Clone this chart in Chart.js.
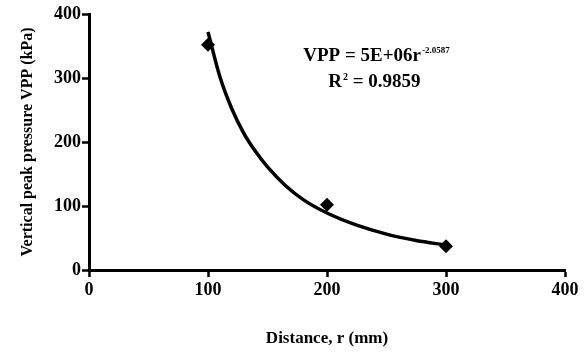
<!DOCTYPE html>
<html>
<head>
<meta charset="utf-8">
<script src="https://cdn.jsdelivr.net/npm/chart.js@4/dist/chart.umd.min.js"></script>
<style>
    html, body { margin: 0; padding: 0; background: #fff; }
    #wrap { width: 588px; height: 362px; }
</style>
</head>
<body>
<div id="wrap"><canvas id="chart" width="588" height="362"></canvas></div>
<script>
// Measured points (distance r in mm, VPP in kPa)
const distance = [100, 200, 300];
const vpp = [352, 102, 37];

// Power trendline
const fitDistance = [100, 110, 120, 130, 140, 150, 165, 180, 200, 225, 250, 275, 300];
const fitVpp = [372, 302, 252, 214, 185, 161, 132, 110, 89, 70, 56, 46, 39];

const xTicks = [0, 100, 200, 300, 400];
const yTicks = [0, 100, 200, 300, 400];

const FONT = "'Liberation Serif', 'Times New Roman', serif";

// Equation label, drawn on top of the chart
const equationLabel = {
    id: 'equationLabel',
    afterDraw(chart) {
        const ctx = chart.ctx;
        const x = chart.scales.x;
        const y = chart.scales.y;
        const x1 = x.getPixelForValue(180);
        const y1 = y.getPixelForValue(326);
        ctx.save();
        ctx.fillStyle = '#000';
        ctx.textBaseline = 'alphabetic';
        ctx.textAlign = 'left';
        ctx.font = `bold 19px ${FONT}`;
        const main = 'VPP = 5E+06r';
        ctx.fillText(main, x1, y1);
        const w = ctx.measureText(main).width;
        ctx.font = `bold 9px ${FONT}`;
        ctx.fillText('-2.0587', x1 + w + 1, y1 - 8);

        const x2 = x.getPixelForValue(201);
        const y2 = y.getPixelForValue(286);
        ctx.font = `bold 19px ${FONT}`;
        ctx.fillText('R', x2, y2);
        const wr = ctx.measureText('R').width;
        ctx.font = `bold 10px ${FONT}`;
        ctx.fillText('2', x2 + wr + 1, y2 - 7);
        ctx.font = `bold 19px ${FONT}`;
        ctx.fillText(' = 0.9859', x2 + wr + 6, y2);
        ctx.restore();
    }
};

const fitLine = fitDistance.map((r, i) => ({ x: r, y: fitVpp[i] }));
const points = distance.map((r, i) => ({ x: r, y: vpp[i] }));

new Chart(document.getElementById('chart'), {
    type: 'scatter',
    data: {
        datasets: [
            {
                label: 'Trend',
                data: fitLine,
                showLine: true,
                borderColor: '#000',
                borderWidth: 3.5,
                pointRadius: 0,
                cubicInterpolationMode: 'monotone',
                order: 2
            },
            {
                label: 'VPP',
                data: points,
                pointStyle: 'rectRot',
                pointRadius: 7,
                backgroundColor: '#000',
                borderColor: '#000',
                borderWidth: 0,
                order: 1
            }
        ]
    },
    options: {
        responsive: false,
        animation: false,
        layout: { padding: { top: 14, right: 23, left: 0, bottom: 0 } },
        plugins: {
            legend: { display: false },
            tooltip: { enabled: false }
        },
        scales: {
            x: {
                type: 'linear',
                min: 0,
                max: 400,
                afterBuildTicks: s => { s.ticks = xTicks.map(v => ({ value: v })); },
                afterFit: s => { s.height = 92; },
                grid: { drawOnChartArea: false, drawTicks: true, tickLength: 7, tickWidth: 2.5, color: '#000' },
                border: { display: true, color: '#000', width: 3 },
                ticks: { color: '#000', padding: 3, font: { family: FONT, size: 18, weight: 'bold' } },
                title: {
                    display: true,
                    text: 'Distance, r (mm)',
                    color: '#000',
                    padding: { top: 0, bottom: 13 },
                    font: { family: FONT, size: 17, weight: 'bold' }
                }
            },
            y: {
                type: 'linear',
                min: 0,
                max: 400,
                afterBuildTicks: s => { s.ticks = yTicks.map(v => ({ value: v })); },
                afterFit: s => { s.width = 89; },
                grid: { drawOnChartArea: false, drawTicks: true, tickLength: 7, tickWidth: 2.5, color: '#000' },
                border: { display: true, color: '#000', width: 3 },
                ticks: { color: '#000', padding: 1, font: { family: FONT, size: 18, weight: 'bold' } },
                title: {
                    display: true,
                    text: 'Vertical peak pressure VPP (kPa)',
                    color: '#000',
                    padding: { top: 18, bottom: 0 },
                    font: { family: FONT, size: 16, weight: 'bold' }
                }
            }
        }
    },
    plugins: [equationLabel]
});
</script>
</body>
</html>
